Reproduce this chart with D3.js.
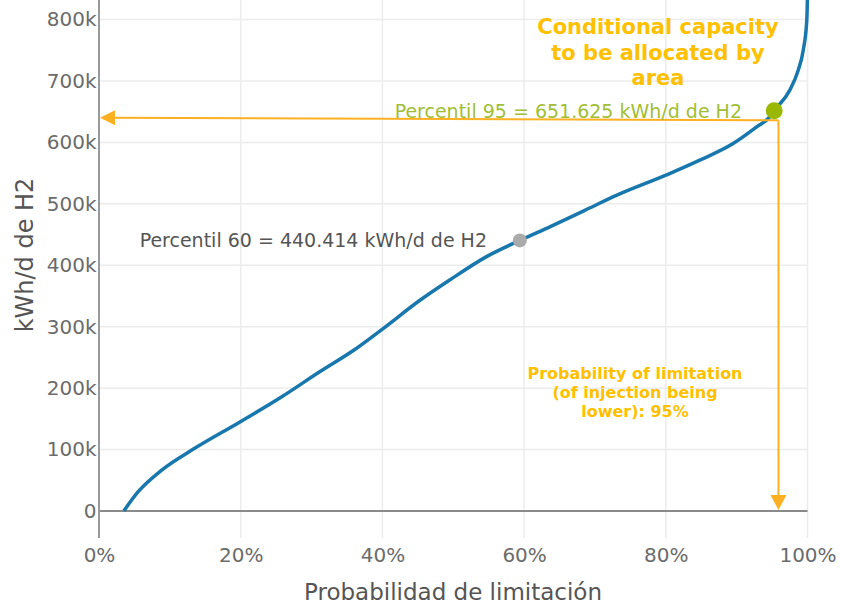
<!DOCTYPE html>
<html>
<head>
<meta charset="utf-8">
<script src="https://cdn.jsdelivr.net/npm/d3@7"></script>
<style>
  html, body { margin: 0; padding: 0; background: #fff; }
  svg { display: block; font-family: "DejaVu Sans", Verdana, sans-serif; }
</style>
</head>
<body>
<svg id="chart" width="841" height="605"></svg>
<script>
// ---- data ----
const probs  = [3.5, 5.5, 8.9, 13.5, 19.9, 25.8, 31.2, 36.0, 40.1, 45.3, 49.5, 54.7, 59.4, 63.7, 68.5, 73.1, 80.1, 84.8, 89.5, 92.8, 94.7, 95.3, 97.5, 98.7, 99.4, 99.9, 100];
const values = [0, 31000, 67000, 102000, 145000, 186000, 227000, 262000, 297000, 343000, 376000, 414000, 440414, 463000, 489000, 514000, 547000, 571000, 598000, 625000, 642000, 651625, 685000, 718000, 750000, 799000, 840000];

const xTicks = [0, 20, 40, 60, 80, 100];
const xTickLabels = ["0%", "20%", "40%", "60%", "80%", "100%"];
const yTicks = [0, 100000, 200000, 300000, 400000, 500000, 600000, 700000, 800000];
const yTickLabels = ["0", "100k", "200k", "300k", "400k", "500k", "600k", "700k", "800k"];

const markerProbs  = [59.4, 95.3];
const markerValues = [440414, 651625];
const markerLabels = ["Percentil 60 = 440.414 kWh/d de H2", "Percentil 95 = 651.625 kWh/d de H2"];

const xTitle = "Probabilidad de limitación";
const yTitle = "kWh/d de H2";
const capacityNote = ["Conditional capacity", "to be allocated by", "area"];
const probNote = ["Probability of limitation", "(of injection being", "lower): 95%"];
// arrow annotation (data coords): vertical at 95.9%, horizontal from ~636k to ~640k
const arrowProb = 95.9;
const arrowValues = [636000, 640000];

// ---- layout ----
const svg = d3.select("#chart");
const x = d3.scaleLinear().domain([0, 100]).range([99, 807.5]);
const y = d3.scaleLinear().domain([0, 800000]).range([511, 19.5]);
const yBottom = -44000;
const plotBottom = y(yBottom);

const defs = svg.append("defs");
defs.append("clipPath").attr("id", "plotclip")
  .append("rect").attr("x", x(0)).attr("y", 0)
  .attr("width", x(100) - x(0) + 6).attr("height", plotBottom);

// gridlines
svg.append("g").selectAll("line").data(xTicks.slice(1)).join("line")
  .attr("x1", d => x(d)).attr("x2", d => x(d))
  .attr("y1", 0).attr("y2", plotBottom)
  .attr("stroke", "#ececec").attr("stroke-width", 1.5);
svg.append("g").selectAll("line").data(yTicks.slice(1)).join("line")
  .attr("x1", x(0)).attr("x2", x(100))
  .attr("y1", d => y(d)).attr("y2", d => y(d))
  .attr("stroke", "#ececec").attr("stroke-width", 1.5);

// zero line
svg.append("line")
  .attr("x1", x(0)).attr("x2", x(100))
  .attr("y1", y(0)).attr("y2", y(0))
  .attr("stroke", "#8a8a8a").attr("stroke-width", 2);

// y axis line
svg.append("line")
  .attr("x1", x(0)).attr("x2", x(0))
  .attr("y1", 0).attr("y2", plotBottom)
  .attr("stroke", "#999").attr("stroke-width", 2);

// axes (labels only)
const yAxis = d3.axisLeft(y).tickValues(yTicks)
  .tickFormat((d, i) => yTickLabels[i]).tickSize(0).tickPadding(2);
const gy = svg.append("g").attr("transform", `translate(${x(0) - 0.5},0)`).call(yAxis);
gy.select(".domain").remove();
gy.selectAll("text").attr("fill", "#6b6b6b").style("font-size", "20px")
  .style("font-family", "DejaVu Sans, Verdana, sans-serif");

const xAxis = d3.axisBottom(x).tickValues(xTicks)
  .tickFormat((d, i) => xTickLabels[i]).tickSize(0).tickPadding(10);
const gx = svg.append("g").attr("transform", `translate(0,${plotBottom})`).call(xAxis);
gx.select(".domain").remove();
gx.selectAll("text").attr("fill", "#6b6b6b").style("font-size", "20px")
  .style("font-family", "DejaVu Sans, Verdana, sans-serif");

// axis titles
svg.append("text").attr("x", 453).attr("y", 600)
  .attr("text-anchor", "middle").attr("fill", "#555")
  .style("font-size", "23px").text(xTitle);
svg.append("text")
  .attr("transform", `translate(33,255) rotate(-90)`)
  .attr("text-anchor", "middle").attr("fill", "#555")
  .style("font-size", "24px").text(yTitle);

// curve
const line = d3.line().x(d => x(d[0])).y(d => y(d[1])).curve(d3.curveMonotoneX);
svg.append("path")
  .attr("clip-path", "url(#plotclip)")
  .attr("d", line(probs.map((p, i) => [p, values[i]])))
  .attr("fill", "none").attr("stroke", "#1877ad").attr("stroke-width", 3.5);

// orange arrows
const orange = "#fdb022";
function arrowHead(tipX, tipY, dir) {
  let pts;
  if (dir === "left") pts = [[tipX, tipY], [tipX + 15, tipY - 7.5], [tipX + 15, tipY + 7.5]];
  else pts = [[tipX, tipY], [tipX - 8, tipY - 15], [tipX + 8, tipY - 15]];
  svg.append("polygon").attr("points", pts.map(p => p.join(",")).join(" ")).attr("fill", orange);
}
const ax = x(arrowProb);
const ay0 = y(arrowValues[0]);
const ay1 = y(arrowValues[1]);
svg.append("line").attr("x1", ax).attr("y1", ay0).attr("x2", x(0) + 10).attr("y2", ay1)
  .attr("stroke", orange).attr("stroke-width", 2);
arrowHead(x(0) + 1, ay1, "left");
svg.append("line").attr("x1", ax).attr("y1", ay0).attr("x2", ax).attr("y2", y(0) - 10)
  .attr("stroke", orange).attr("stroke-width", 2);
arrowHead(ax, y(0) - 1, "down");

// markers
const markerColors = ["#aaaaaa", "#9bb800"];
const markerR = [7, 8.5];
svg.append("g").selectAll("circle").data(markerProbs).join("circle")
  .attr("cx", d => x(d)).attr("cy", (d, i) => y(markerValues[i]))
  .attr("r", (d, i) => markerR[i]).attr("fill", (d, i) => markerColors[i]);

// marker labels
svg.append("text").attr("x", 487).attr("y", 247)
  .attr("text-anchor", "end").attr("fill", "#555").style("font-size", "19px")
  .text(markerLabels[0]);
svg.append("text").attr("x", 742).attr("y", 118)
  .attr("text-anchor", "end").attr("fill", "#a0be35").style("font-size", "19px")
  .text(markerLabels[1]);

// notes
const gold = "#ffc000";
const capText = svg.append("text").attr("text-anchor", "middle").attr("fill", gold)
  .style("font-size", "21px").style("font-weight", "bold");
capacityNote.forEach((t, i) => capText.append("tspan").attr("x", 658).attr("y", 34 + i * 25.5).text(t));

const probText = svg.append("text").attr("text-anchor", "middle").attr("fill", gold)
  .style("font-size", "16px").style("font-weight", "bold");
probNote.forEach((t, i) => probText.append("tspan").attr("x", 635).attr("y", 379 + i * 19).text(t));
</script>
</body>
</html>
